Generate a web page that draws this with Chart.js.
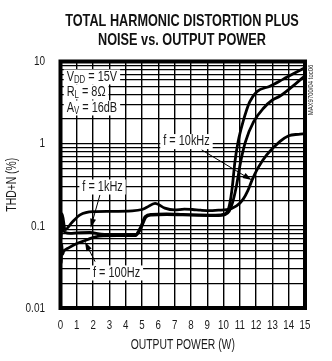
<!DOCTYPE html>
<html>
<head>
<meta charset="utf-8">
<script src="https://cdn.jsdelivr.net/npm/chart.js@4"></script>
<style>
  body { margin: 0; background: #fff; }
  canvas { display: block; }
</style>
</head>
<body>
<canvas id="thd" width="332" height="361"></canvas>
<script>
const FONT = '"Liberation Sans", Arial, sans-serif';
const NARROW = 0.78;

// output power (W) / THD+N (%)
const power10k = [0, 0.05, 0.1, 0.28, 0.7, 1.2, 2.0, 3.0, 4.4, 5.0, 5.3, 5.8, 6.4, 7.0, 7.6, 8.1, 8.6, 9.2, 9.7, 10.2, 10.8, 11.2, 11.5, 11.75, 12.1, 12.65, 13.45, 14.0, 14.6, 15];
const thd10k = [0.16, 0.1, 0.14, 0.09, 0.11, 0.136, 0.149, 0.15, 0.152, 0.158, 0.168, 0.188, 0.164, 0.156, 0.16, 0.158, 0.155, 0.153, 0.155, 0.157, 0.175, 0.21, 0.27, 0.36, 0.5, 0.73, 1.06, 1.25, 1.3, 1.32];

const power1k = [0, 0.04, 0.08, 0.15, 0.3, 0.6, 1.0, 1.8, 2.5, 3.5, 4.6, 4.9, 5.2, 5.6, 6.5, 7.5, 8.5, 9.5, 10.1, 10.3, 10.45, 10.55, 10.7, 10.9, 11.2, 11.6, 12.05, 12.85, 13.67, 14.28, 15];
const thd1k = [0.12, 0.07, 0.11, 0.09, 0.083, 0.081, 0.082, 0.083, 0.079, 0.078, 0.078, 0.095, 0.13, 0.138, 0.14, 0.138, 0.136, 0.135, 0.14, 0.16, 0.22, 0.31, 0.6, 1.06, 1.85, 3.2, 4.3, 5.0, 6.1, 7.1, 8.4];

const power100 = [0, 0.04, 0.08, 0.12, 0.2, 0.5, 1.0, 1.5, 1.8, 2.4, 3.5, 4.6, 4.9, 5.25, 5.6, 6.5, 7.5, 8.5, 9.5, 10.1, 10.35, 10.55, 10.8, 11.05, 11.35, 11.85, 12.45, 13.0, 13.47, 14.49, 15];
const thd100 = [0.05, 0.035, 0.06, 0.045, 0.049, 0.054, 0.061, 0.066, 0.07, 0.075, 0.076, 0.076, 0.09, 0.128, 0.135, 0.137, 0.136, 0.134, 0.133, 0.137, 0.15, 0.19, 0.31, 0.6, 1.06, 1.85, 2.7, 3.4, 3.8, 5.5, 6.7];

const xTicks = [0, 1, 2, 3, 4, 5, 6, 7, 8, 9, 10, 11, 12, 13, 14, 15];
const yTicks = [0.01, 0.1, 1, 10];
const yTickLabels = ['0.01', '0.1', '1', '10'];

const yGrid = [];
[0.01, 0.1, 1].forEach(d => {
    for (let m = 1; m < 10; m++) yGrid.push(+(d * m).toPrecision(2));
});
yGrid.push(10);

const pts = (xs, ys) => xs.map((x, i) => ({x: x, y: ys[i]}));

const curve = (data) => ({
    data: data,
    borderColor: '#000',
    borderWidth: 2.8,
    pointRadius: 0,
    cubicInterpolationMode: 'monotone',
    fill: false
});

// condensed text: squeeze a regular face horizontally
const text = (ctx, str, x, y, font, align, sx) => {
    ctx.save();
    ctx.font = font;
    ctx.textAlign = align || 'center';
    ctx.textBaseline = 'middle';
    ctx.translate(x, y);
    ctx.scale(sx || NARROW, 1);
    ctx.fillText(str, 0, 0);
    ctx.restore();
};

const drawLabel = (ctx, parts, x, y, align) => {
    const big = '14px ' + FONT, small = '10px ' + FONT;
    let w = 0;
    parts.forEach(p => {
        ctx.font = p[1] ? small : big;
        w += ctx.measureText(p[0]).width * NARROW;
    });
    let left = align === 'left' ? x : x - w / 2;
    ctx.fillStyle = '#fff';
    ctx.fillRect(left - 3, y - 7.5, w + 6, 15);
    ctx.fillStyle = '#1a1a1a';
    parts.forEach(p => {
        ctx.font = p[1] ? small : big;
        text(ctx, p[0], left, p[1] ? y + 3.5 : y, ctx.font, 'left');
        left += ctx.measureText(p[0]).width * NARROW;
    });
};

const arrow = (ctx, x1, y1, x2, y2) => {
    const ang = Math.atan2(y2 - y1, x2 - x1);
    const c = Math.cos(ang), s = Math.sin(ang);
    ctx.strokeStyle = '#000';
    ctx.lineWidth = 1;
    ctx.beginPath();
    ctx.moveTo(x1, y1);
    ctx.lineTo(x2 - 6 * c, y2 - 6 * s);
    ctx.stroke();
    ctx.fillStyle = '#000';
    ctx.beginPath();
    ctx.moveTo(x2, y2);
    ctx.lineTo(x2 - 9 * c + 3 * s, y2 - 9 * s - 3 * c);
    ctx.lineTo(x2 - 9 * c - 3 * s, y2 - 9 * s + 3 * c);
    ctx.closePath();
    ctx.fill();
};

const decor = {
    id: 'decor',
    afterDatasetsDraw(chart) {
        const {ctx, chartArea: a} = chart;
        ctx.save();
        ctx.strokeStyle = '#000';
        ctx.lineWidth = 4;
        ctx.strokeRect(a.left, a.top, a.right - a.left, a.bottom - a.top);
        ctx.restore();
    },
    afterDraw(chart) {
        const {ctx, chartArea: a, scales: {x, y}} = chart;
        ctx.save();

        ctx.fillStyle = '#111';
        text(ctx, 'TOTAL HARMONIC DISTORTION PLUS', 182, 21, 'bold 16.5px ' + FONT, 'center', 0.77);
        text(ctx, 'NOISE vs. OUTPUT POWER', 182, 40, 'bold 16.5px ' + FONT, 'center', 0.77);

        ctx.fillStyle = '#1a1a1a';
        const tickFont = '13.5px ' + FONT;
        xTicks.forEach(v => text(ctx, String(v), x.getPixelForValue(v), 325, tickFont, 'center', 0.72));
        yTicks.forEach((v, i) => text(ctx, yTickLabels[i], 45, y.getPixelForValue(v), tickFont, 'right', 0.74));

        text(ctx, 'OUTPUT POWER (W)', (a.left + a.right) / 2, 345, '14px ' + FONT, 'center', 0.74);
        ctx.save();
        ctx.translate(12.5, (a.top + a.bottom) / 2);
        ctx.rotate(-Math.PI / 2);
        text(ctx, 'THD+N (%)', 0, 0, '14px ' + FONT, 'center', 0.74);
        ctx.restore();

        ctx.save();
        ctx.translate(311.5, 90);
        ctx.rotate(-Math.PI / 2);
        text(ctx, 'MAX9700/04 toc06', 0, 0, '7px ' + FONT, 'center', 0.85);
        ctx.restore();

        // conditions box
        const bx = x.getPixelForValue(0.38);
        drawLabel(ctx, [['V'], ['DD', true], [' = 15V']], bx, y.getPixelForValue(6.48), 'left');
        drawLabel(ctx, [['R'], ['L', true], [' = 8\u03A9']], bx, y.getPixelForValue(4.26), 'left');
        drawLabel(ctx, [['A'], ['V', true], [' = 16dB']], bx, y.getPixelForValue(2.72), 'left');

        // curve labels
        arrow(ctx, x.getPixelForValue(2.42), y.getPixelForValue(0.238), x.getPixelForValue(1.85), y.getPixelForValue(0.095));
        arrow(ctx, x.getPixelForValue(2.12), y.getPixelForValue(0.0367), x.getPixelForValue(1.5), y.getPixelForValue(0.064));
        arrow(ctx, x.getPixelForValue(8.66), y.getPixelForValue(0.84), x.getPixelForValue(11.73), y.getPixelForValue(0.36));
        drawLabel(ctx, [['f = 1kHz']], x.getPixelForValue(2.58), y.getPixelForValue(0.297), 'center');
        drawLabel(ctx, [['f = 100Hz']], x.getPixelForValue(3.44), y.getPixelForValue(0.0267), 'center');
        drawLabel(ctx, [['f = 10kHz']], x.getPixelForValue(7.73), y.getPixelForValue(1.06), 'center');

        ctx.restore();
    }
};

new Chart(document.getElementById('thd'), {
    type: 'line',
    data: {
        datasets: [
            curve(pts(power10k, thd10k)),
            curve(pts(power1k, thd1k)),
            curve(pts(power100, thd100))
        ]
    },
    options: {
        responsive: false,
        animation: false,
        devicePixelRatio: 1,
        layout: { padding: { left: 0, right: 27, top: 61.5, bottom: 0 } },
        plugins: {
            legend: { display: false },
            title: { display: false },
            tooltip: { enabled: false }
        },
        scales: {
            x: {
                type: 'linear',
                min: 0,
                max: 15,
                afterFit: s => { s.height = 53; },
                afterBuildTicks: s => { s.ticks = xTicks.map(v => ({value: v})); },
                border: { display: false },
                grid: { color: '#000', lineWidth: 1.4, drawTicks: false },
                ticks: { autoSkip: false, maxRotation: 0, callback: () => '' }
            },
            y: {
                type: 'logarithmic',
                min: 0.01,
                max: 10,
                afterFit: s => { s.width = 60.5; },
                afterBuildTicks: s => { s.ticks = yGrid.map(v => ({value: v})); },
                border: { display: false },
                grid: { color: '#000', lineWidth: 1.2, drawTicks: false },
                ticks: { autoSkip: false, callback: () => '' }
            }
        }
    },
    plugins: [decor]
});
</script>
</body>
</html>
